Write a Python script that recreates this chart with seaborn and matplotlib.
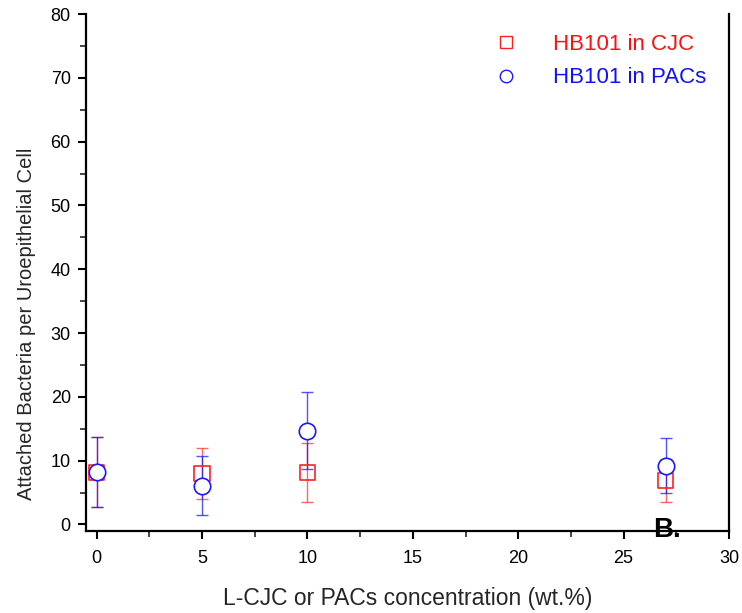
import matplotlib
matplotlib.use("Agg")
import matplotlib.pyplot as plt
import seaborn as sns
import pandas as pd
from matplotlib.ticker import MultipleLocator
from matplotlib.lines import Line2D

conc = [0, 5, 10, 27]
cjc_mean = [8.2, 8.0, 8.2, 6.9]
cjc_err = [5.5, 4.0, 4.6, 3.4]
pac_mean = [8.2, 6.1, 14.7, 9.2]
pac_err = [5.5, 4.6, 6.0, 4.3]
series_names = ["HB101 in CJC", "HB101 in PACs"]

sns.set_style("ticks")
plt.rcParams['font.family'] = ['Liberation Sans', 'DejaVu Sans']

fig = plt.figure(figsize=(7.42, 6.13), dpi=100)
ax = fig.add_axes([0.116, 0.134, 0.8665, 0.843])

df = pd.DataFrame({
    "conc": conc * 2,
    "val": cjc_mean + pac_mean,
    "series": [series_names[0]] * len(conc) + [series_names[1]] * len(conc),
})

ax.errorbar(conc, cjc_mean, yerr=cjc_err, fmt="none", ecolor=(1, 0.2, 0.2, 0.75),
            elinewidth=1.0, capsize=4.5, capthick=1.0, zorder=2)
ax.errorbar(conc, pac_mean, yerr=pac_err, fmt="none", ecolor=(0.1, 0.1, 1, 0.75),
            elinewidth=1.0, capsize=4.5, capthick=1.0, zorder=3)

sns.scatterplot(data=df[df.series == series_names[0]], x="conc", y="val", ax=ax,
                marker="s", s=120, facecolor="none", edgecolor="#ff2020",
                linewidth=1.2, zorder=4, legend=False)
sns.scatterplot(data=df[df.series == series_names[1]], x="conc", y="val", ax=ax,
                marker="o", s=140, facecolor="white", edgecolor="#1a1aff",
                linewidth=1.2, zorder=5, legend=False)

ax.set_xlim(-0.5, 30)
ax.set_ylim(-1, 80)
ax.xaxis.set_major_locator(MultipleLocator(5))
ax.xaxis.set_minor_locator(MultipleLocator(2.5))
ax.yaxis.set_major_locator(MultipleLocator(10))
ax.yaxis.set_minor_locator(MultipleLocator(5))
ax.tick_params(which="major", direction="out", length=6, width=1.5, labelsize=13,
               colors="black", pad=5)
ax.tick_params(which="minor", direction="out", length=4, width=1.2)
ax.tick_params(axis="x", which="major", pad=8)
ax.tick_params(axis="y", which="both", right=False)
for s in ["left", "bottom", "right"]:
    ax.spines[s].set_linewidth(1.6)
    ax.spines[s].set_color("black")
ax.spines["top"].set_visible(False)

ax.set_xlabel("L-CJC or PACs concentration (wt.%)", fontsize=16.5)
ax.xaxis.set_label_coords(0.5, -0.13)
ax.xaxis.label.set_va("center")
ax.set_ylabel("Attached Bacteria per Uroepithelial Cell", fontsize=14.5)
ax.yaxis.set_label_coords(-0.078, 0.40)

handles = [
    Line2D([], [], linestyle="none", marker="s", markersize=8, markerfacecolor="none",
           markeredgecolor="#ff2020", markeredgewidth=1.0),
    Line2D([], [], linestyle="none", marker="o", markersize=9, markerfacecolor="none",
           markeredgecolor="#1a1aff", markeredgewidth=1.0),
]
leg = ax.legend(handles, series_names, loc="upper right", frameon=False, fontsize=16,
                handletextpad=1.3, handlelength=1.6, bbox_to_anchor=(0.995, 1.0),
                labelspacing=0.55)
for t, c in zip(leg.get_texts(), ["#ff1010", "#1010ff"]):
    t.set_color(c)

ax.text(27.05, -2.0, "B.", fontsize=20, fontweight="bold", ha="center", va="baseline",
        color="black", zorder=6, clip_on=False)

fig.savefig("out.png", dpi=100)
